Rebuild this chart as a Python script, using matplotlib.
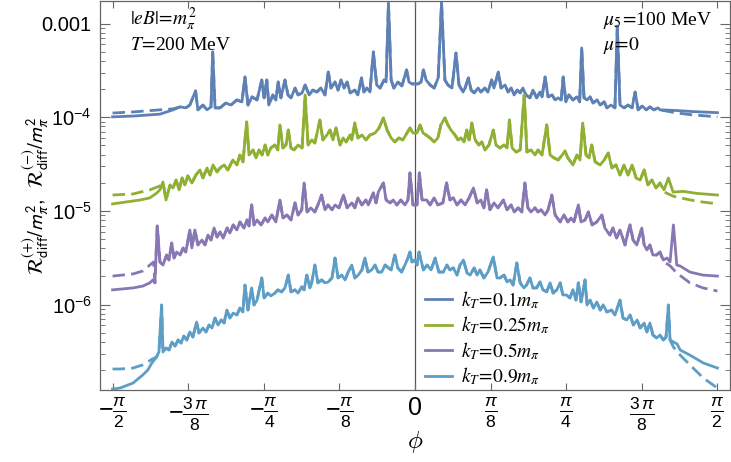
import numpy as np
import matplotlib.pyplot as plt
from matplotlib.ticker import FixedLocator, LogLocator, NullFormatter

plt.rcParams['font.family'] = ['Liberation Sans', 'DejaVu Sans']
plt.rcParams['mathtext.fontset'] = 'custom'
plt.rcParams['mathtext.rm'] = 'Liberation Sans'
plt.rcParams['mathtext.it'] = 'Liberation Sans:italic'
plt.rcParams['mathtext.bf'] = 'Liberation Sans:bold'

# (phi in degrees, value); solid curves
# k_T = 0.1 m_pi, values in units of 1e-4
kt01 = [(-90, 1.01), (-83.9, 1.03), (-75.9, 1.08), (-72.0, 1.20), (-69.9, 1.29), (-68.2, 1.26),
        (-67.0, 1.35), (-65.3, 1.91), (-64.6, 1.20), (-63.1, 1.35), (-61.9, 1.20), (-60.7, 1.29),
        (-60.2, 4.98), (-59.5, 1.26), (-58.0, 1.26), (-56.3, 1.42), (-54.8, 1.35), (-53.0, 1.53),
        (-51.5, 1.46), (-50.6, 2.69), (-49.7, 1.35), (-48.5, 1.65), (-47.0, 1.53), (-45.6, 2.50),
        (-44.9, 1.61), (-44.1, 2.50), (-43.5, 1.35), (-42.3, 1.73), (-41.4, 1.53), (-40.7, 2.38),
        (-39.9, 1.61), (-38.7, 2.50), (-37.8, 1.73), (-36.9, 1.61), (-35.7, 2.05), (-34.8, 1.73),
        (-33.6, 1.82), (-32.7, 2.21), (-31.5, 1.73), (-30.4, 1.95), (-29.2, 1.86), (-28.0, 2.05),
        (-26.8, 1.73), (-25.8, 3.04), (-25.0, 2.05), (-23.8, 2.38), (-22.9, 1.95), (-22.0, 2.50),
        (-21.1, 2.05), (-20.2, 2.38), (-19.3, 1.82), (-17.9, 1.95), (-17.0, 1.73), (-15.9, 2.63),
        (-15.2, 1.86), (-14.3, 2.05), (-13.4, 1.86), (-12.4, 4.98), (-11.4, 2.21), (-10.4, 2.05),
        (-9.2, 2.50), (-8.6, 2.38), (-7.9, 16.6), (-7.1, 2.50), (-6.3, 2.05), (-5.1, 2.38),
        (-3.9, 2.16), (-2.5, 3.20), (-1.8, 2.38), (-0.9, 2.27), (0.9, 2.27), (1.8, 2.38),
        (2.5, 3.20), (3.3, 2.50), (4.5, 2.21), (5.7, 2.05), (6.9, 2.63), (7.9, 16.6),
        (8.9, 2.50), (9.8, 2.21), (11.0, 2.05), (12.2, 4.85), (13.1, 2.21), (14.3, 1.86),
        (14.9, 2.05), (15.9, 2.63), (16.7, 1.95), (17.6, 1.82), (18.8, 2.05), (19.6, 1.86),
        (20.8, 2.05), (21.7, 1.86), (22.8, 2.50), (23.5, 2.05), (24.8, 3.04), (25.6, 2.05),
        (26.8, 2.21), (27.7, 1.86), (28.6, 2.05), (29.5, 1.73), (30.4, 1.95), (31.3, 1.82),
        (32.1, 2.05), (33.0, 1.73), (34.2, 1.61), (35.1, 1.95), (36.2, 1.61), (37.2, 1.86),
        (37.8, 1.65), (38.7, 2.69), (39.6, 1.65), (40.8, 1.73), (41.7, 1.53), (42.6, 1.61),
        (43.5, 1.53), (44.1, 2.69), (44.9, 1.46), (45.8, 1.73), (47.0, 1.53), (48.2, 1.65),
        (49.0, 1.46), (49.6, 5.49), (50.3, 1.61), (51.2, 1.53), (52.1, 1.65), (53.0, 1.42),
        (54.2, 1.53), (55.1, 1.35), (56.3, 1.46), (57.1, 1.26), (58.3, 1.35), (59.5, 1.26),
        (60.2, 9.4), (61.0, 1.35), (62.2, 1.26), (63.4, 1.35), (64.6, 1.26), (65.5, 1.86),
        (66.4, 1.20), (67.6, 1.32), (68.8, 1.20), (69.9, 1.29), (71.1, 1.20), (72.3, 1.26),
        (72.9, 1.20), (77.9, 1.18), (82.7, 1.15), (90, 1.12)]

# k_T = 0.25 m_pi, units of 1e-5
kt025 = [(-90, 1.19), (-81.8, 1.31), (-78.9, 1.38), (-76.8, 1.56), (-75.9, 1.68), (-75.0, 2.04),
         (-74.1, 1.31), (-72.9, 1.90), (-72.0, 1.76), (-71.1, 2.14), (-70.2, 1.68), (-69.3, 2.25),
         (-68.5, 1.90), (-67.6, 2.37), (-66.4, 1.99), (-65.2, 2.42), (-64.0, 2.74), (-63.1, 2.25),
         (-61.9, 2.88), (-61.0, 2.42), (-60.1, 3.10), (-58.9, 2.61), (-58.0, 2.88), (-56.8, 3.10),
         (-55.7, 2.74), (-54.2, 3.50), (-53.0, 3.10), (-52.1, 3.96), (-51.2, 3.34), (-50.1, 8.91),
         (-49.4, 3.96), (-48.2, 4.48), (-47.3, 3.68), (-46.4, 4.48), (-45.5, 3.96), (-44.6, 5.06),
         (-43.8, 3.96), (-42.9, 4.70), (-41.7, 5.06), (-40.8, 4.48), (-40.2, 8.28), (-39.3, 4.70),
         (-38.4, 5.06), (-37.7, 7.31), (-36.9, 4.70), (-36.0, 4.48), (-34.8, 5.06), (-33.6, 4.70),
         (-32.7, 17.3), (-31.8, 5.06), (-30.7, 5.73), (-29.8, 5.31), (-28.3, 9.35), (-27.4, 5.73),
         (-26.2, 6.47), (-25.3, 7.31), (-24.4, 5.73), (-23.5, 7.69), (-22.3, 5.06), (-21.4, 6.01),
         (-20.5, 5.45), (-19.3, 6.47), (-18.8, 5.73), (-17.9, 8.69), (-17.0, 6.01), (-15.8, 6.47),
         (-14.6, 5.73), (-13.4, 6.47), (-11.9, 6.79), (-10.7, 7.69), (-9.4, 9.84), (-8.3, 7.31),
         (-7.1, 6.01), (-6.0, 5.45), (-4.8, 6.01), (-3.6, 5.73), (-2.4, 6.79), (-1.5, 7.69),
         (-0.6, 6.79), (0.6, 6.79), (1.5, 8.28), (2.4, 6.79), (3.3, 6.47), (4.5, 6.01),
         (5.7, 5.45), (6.8, 6.01), (7.7, 8.28), (8.9, 9.84), (9.8, 8.28), (10.7, 7.31),
         (11.9, 6.47), (12.8, 5.73), (13.7, 6.01), (14.6, 5.45), (15.4, 7.31), (16.1, 5.73),
         (16.9, 8.69), (17.9, 5.73), (19.0, 5.06), (19.9, 5.45), (20.8, 4.48), (22.0, 5.06),
         (23.3, 7.31), (24.1, 5.06), (25.3, 4.70), (26.5, 5.06), (27.4, 4.70), (28.1, 9.35),
         (28.9, 4.70), (30.1, 4.26), (31.3, 4.48), (32.5, 17.3), (33.3, 4.26), (34.5, 4.48),
         (35.7, 3.96), (36.6, 4.48), (37.8, 3.96), (39.2, 8.28), (40.2, 3.96), (41.4, 3.68),
         (42.6, 3.50), (43.8, 3.96), (44.6, 4.37), (45.5, 3.68), (47.0, 3.10), (48.2, 3.96),
         (49.1, 3.50), (49.9, 8.69), (50.9, 3.96), (51.8, 3.68), (52.6, 5.06), (53.6, 3.34),
         (55.1, 3.10), (56.3, 3.50), (57.5, 4.16), (58.6, 2.88), (59.8, 3.10), (61.0, 2.42),
         (62.2, 3.10), (63.4, 2.42), (64.6, 3.10), (65.8, 2.25), (67.0, 2.14), (68.2, 2.74),
         (69.3, 1.90), (70.5, 2.14), (71.7, 1.76), (72.9, 1.99), (74.1, 1.68), (75.4, 2.25),
         (76.8, 1.59), (79.8, 1.62), (83.9, 1.54), (90, 1.48)]

# k_T = 0.5 m_pi, units of 1e-6
kt05 = [(-90, 1.44), (-83.9, 1.51), (-81.0, 1.58), (-78.9, 1.71), (-78.0, 1.84), (-77.4, 1.71),
        (-76.7, 6.92), (-75.9, 2.86), (-75.0, 2.65), (-73.9, 3.39), (-73.2, 3.00), (-72.4, 4.55),
        (-71.7, 3.15), (-70.9, 3.65), (-69.9, 3.39), (-69.0, 4.03), (-68.2, 3.65), (-67.0, 6.27),
        (-66.4, 4.03), (-65.5, 6.27), (-64.6, 4.34), (-63.4, 4.90), (-62.5, 4.34), (-61.6, 5.54),
        (-60.7, 4.90), (-59.8, 6.59), (-58.9, 5.27), (-58.0, 5.97), (-57.1, 5.15), (-55.9, 6.59),
        (-55.1, 5.82), (-54.1, 7.10), (-53.0, 6.27), (-52.1, 7.64), (-50.9, 6.59), (-50.0, 8.02),
        (-49.4, 6.92), (-48.6, 11.6), (-47.9, 7.10), (-47.0, 8.02), (-45.8, 7.10), (-44.6, 8.42),
        (-43.8, 7.64), (-42.6, 9.06), (-41.4, 7.64), (-40.2, 13.1), (-39.3, 8.42), (-38.1, 9.06),
        (-36.9, 8.02), (-35.7, 12.2), (-34.8, 9.06), (-33.7, 10.3), (-33.0, 19.9), (-32.1, 9.76),
        (-31.0, 10.8), (-29.8, 9.76), (-28.9, 11.6), (-27.8, 14.8), (-26.8, 10.3), (-25.9, 11.6),
        (-24.7, 10.3), (-23.8, 11.6), (-22.6, 10.8), (-21.3, 14.8), (-20.2, 10.8), (-18.8, 12.2),
        (-17.9, 10.8), (-17.0, 13.8), (-15.8, 11.6), (-14.6, 13.1), (-13.9, 11.6), (-12.4, 15.6),
        (-11.6, 12.2), (-10.9, 16.0), (-9.4, 19.9), (-8.6, 13.1), (-7.4, 12.2), (-6.5, 13.1),
        (-5.4, 11.6), (-4.2, 13.1), (-3.0, 11.6), (-2.1, 13.1), (-1.5, 25.5), (-0.6, 11.6),
        (0.6, 11.6), (1.3, 25.5), (2.1, 13.1), (3.5, 13.1), (4.5, 11.6), (5.7, 13.8),
        (6.8, 11.6), (8.3, 12.2), (9.4, 19.9), (10.4, 13.1), (11.4, 13.8), (12.5, 11.6),
        (13.7, 13.1), (14.9, 11.6), (16.1, 13.8), (17.4, 17.6), (18.5, 12.2), (19.6, 13.1),
        (20.5, 10.8), (21.3, 16.8), (22.3, 10.3), (23.5, 12.2), (24.7, 10.8), (26.3, 13.1),
        (27.4, 10.3), (28.6, 11.6), (29.5, 9.76), (30.7, 10.8), (31.8, 9.76), (32.7, 19.9),
        (33.6, 10.8), (34.5, 9.76), (35.7, 10.8), (36.6, 9.76), (37.5, 10.3), (38.7, 9.06),
        (39.6, 10.3), (40.7, 14.8), (41.7, 9.06), (43.2, 7.64), (44.3, 9.06), (45.5, 7.64),
        (46.4, 8.42), (47.3, 7.64), (48.6, 11.6), (49.4, 7.64), (50.6, 8.02), (51.6, 9.76),
        (52.7, 7.10), (54.1, 7.64), (55.6, 9.06), (56.5, 6.59), (58.0, 5.54), (58.9, 6.59),
        (60.0, 5.15), (61.0, 6.27), (62.5, 4.34), (63.4, 5.97), (64.0, 7.10), (64.9, 4.90),
        (66.0, 4.34), (67.5, 6.59), (68.2, 4.34), (69.0, 3.84), (69.9, 4.34), (70.8, 3.39),
        (71.9, 3.39), (72.9, 3.65), (73.9, 3.00), (75.0, 3.15), (75.9, 2.86), (76.9, 7.10),
        (77.9, 2.65), (78.9, 2.59), (81.8, 2.23), (85.7, 2.07), (90, 2.02)]

# k_T = 0.9 m_pi, units of 1e-7
kt09 = [(-90, 1.26), (-87.8, 1.29), (-83.9, 1.46), (-81.0, 1.78), (-79.5, 2.01), (-78.3, 2.39),
        (-76.9, 2.77), (-76.2, 3.13), (-75.4, 9.93), (-75.0, 3.13), (-74.1, 3.45), (-73.2, 3.29),
        (-72.3, 4.00), (-71.4, 3.62), (-70.5, 4.20), (-69.6, 3.90), (-68.8, 4.63), (-67.9, 4.20),
        (-67.0, 5.12), (-66.1, 4.52), (-65.0, 6.53), (-64.3, 4.99), (-63.1, 5.64), (-62.2, 5.12),
        (-61.3, 6.07), (-60.4, 5.64), (-59.5, 7.21), (-58.6, 6.07), (-57.7, 6.87), (-56.8, 6.38),
        (-56.0, 8.77), (-55.1, 7.21), (-54.1, 8.14), (-53.0, 7.76), (-52.1, 9.22), (-51.2, 8.36),
        (-50.6, 16.2), (-49.7, 8.77), (-48.6, 15.1), (-47.9, 9.93), (-47.0, 11.2), (-45.6, 19.3),
        (-44.9, 11.8), (-43.8, 13.3), (-42.9, 12.4), (-41.7, 13.3), (-40.8, 14.4), (-39.7, 13.7),
        (-38.7, 15.1), (-37.7, 20.7), (-36.9, 13.7), (-35.7, 14.4), (-34.8, 13.3), (-33.7, 15.5),
        (-33.0, 14.4), (-32.2, 20.7), (-31.3, 15.1), (-30.7, 17.5), (-29.8, 26.5), (-28.9, 17.1),
        (-27.8, 18.4), (-26.8, 17.1), (-25.8, 17.5), (-24.7, 19.3), (-23.8, 31.5), (-22.9, 19.3),
        (-21.8, 20.7), (-20.8, 18.4), (-19.9, 22.3), (-18.8, 26.5), (-17.9, 19.3), (-16.9, 20.7),
        (-15.8, 23.5), (-14.9, 31.5), (-14.0, 22.3), (-12.9, 23.5), (-11.9, 26.5), (-11.0, 22.3),
        (-9.9, 22.3), (-8.9, 26.5), (-7.9, 24.7), (-7.1, 23.5), (-6.0, 33.9), (-5.1, 24.7),
        (-4.0, 22.3), (-3.0, 26.5), (-2.1, 31.5), (-1.5, 36.5), (-0.9, 28.6), (0, 30.0),
        (0.6, 26.5), (1.2, 36.5), (2.5, 23.5), (3.6, 26.5), (4.8, 23.5), (6.0, 31.5),
        (7.1, 22.3), (8.4, 22.3), (9.5, 26.5), (10.4, 23.5), (11.4, 24.7), (12.5, 20.7),
        (13.4, 26.5), (14.4, 30.0), (15.5, 21.8), (16.4, 20.7), (17.6, 24.7), (18.5, 20.7),
        (19.3, 23.5), (20.5, 19.3), (21.7, 22.3), (23.3, 32.3), (24.4, 19.3), (25.3, 19.3),
        (26.5, 20.7), (27.4, 17.5), (28.3, 18.4), (29.2, 16.2), (30.3, 27.9), (31.3, 17.1),
        (32.4, 15.1), (33.2, 16.2), (34.2, 19.3), (35.1, 15.1), (36.2, 15.1), (37.2, 17.5),
        (38.1, 14.4), (39.2, 13.7), (40.2, 17.1), (41.1, 13.3), (42.2, 14.4), (43.2, 17.1),
        (44.0, 12.7), (45.1, 12.7), (46.1, 11.8), (47.0, 14.4), (47.9, 11.2), (48.6, 17.1),
        (49.4, 10.7), (50.6, 18.4), (51.2, 9.93), (52.1, 11.2), (53.1, 9.22), (54.1, 10.7),
        (55.1, 8.77), (56.0, 9.93), (57.1, 8.36), (58.5, 8.77), (59.5, 7.76), (61.0, 11.2),
        (61.9, 7.21), (63.0, 6.87), (64.0, 7.76), (65.0, 6.07), (66.1, 6.87), (67.0, 5.64),
        (68.2, 6.38), (69.0, 5.12), (69.9, 6.38), (70.8, 4.75), (71.9, 4.41), (72.9, 4.75),
        (73.9, 4.20), (74.7, 4.52), (75.4, 9.93), (75.9, 4.20), (76.9, 4.00), (78.0, 3.81),
        (78.9, 3.29), (81.8, 2.90), (85.8, 2.39), (90, 2.11)]

# dashed curves: they split off from the solid ones only near phi = +-pi/2
kt01_dash_l = [(-90, 1.11), (-83.9, 1.14), (-75.9, 1.20), (-72.0, 1.23), (-69.9, 1.29)]
kt01_dash_r = [(72.9, 1.20), (77.9, 1.11), (82.7, 1.06), (90, 1.01)]
kt025_dash_l = [(-90, 1.48), (-83.9, 1.52), (-78.9, 1.68), (-75.9, 1.85)]
kt025_dash_r = [(74.1, 1.60), (76.8, 1.44), (79.8, 1.36), (83.9, 1.27), (90, 1.19)]
kt05_dash_l = [(-90, 2.02), (-83.9, 2.13), (-81.0, 2.29), (-78.9, 2.65), (-77.8, 2.86)]
kt05_dash_r = [(73.9, 2.90), (75.9, 2.60), (77.9, 2.18), (81.8, 1.71), (85.7, 1.51), (90, 1.40)]
kt09_dash_l = [(-90, 2.06), (-87.8, 2.06), (-83.9, 2.11), (-81.0, 2.28), (-79.5, 2.45), (-78.3, 2.62)]
kt09_dash_r = [(76.9, 3.53), (78.9, 2.90), (81.8, 2.28), (85.8, 1.65), (90, 1.29)]

labels = [r'$k_T\!=\!0.1m_\pi$', r'$k_T\!=\!0.25m_\pi$', r'$k_T\!=\!0.5m_\pi$', r'$k_T\!=\!0.9m_\pi$']
units = [1e-4, 1e-5, 1e-6, 1e-7]
colors = ['#5E81B5', '#8FB032', '#8778B3', '#5D9EC7']
solid = [kt01, kt025, kt05, kt09]
dash_l = [kt01_dash_l, kt025_dash_l, kt05_dash_l, kt09_dash_l]
dash_r = [kt01_dash_r, kt025_dash_r, kt05_dash_r, kt09_dash_r]

fig = plt.figure(figsize=(7.31, 4.62), dpi=100)
ax = fig.add_axes([100 / 731, 72 / 462, 630 / 731, 389 / 462])

handles = []
for s, dl, dr, u, c, lab in zip(solid, dash_l, dash_r, units, colors, labels):
    p, v = np.array(s).T
    # dashed curve coincides with the solid one between its two end pieces
    mid = (p > dl[-1][0]) & (p < dr[0][0])
    pd = np.concatenate([np.array(dl)[:, 0], p[mid], np.array(dr)[:, 0]])
    vd = np.concatenate([np.array(dl)[:, 1], v[mid], np.array(dr)[:, 1]])
    ax.plot(np.deg2rad(pd), vd * u, color=c, lw=2.0, dashes=(4.5, 2.2))
    h, = ax.plot(np.deg2rad(p), v * u, color=c, lw=2.0)
    handles.append(h)

ax.axvline(0, color='#555555', lw=0.9, zorder=1)

ax.set_yscale('log')
ax.set_xlim(-1.636, 1.636)
ax.set_ylim(1.23e-7, 1.74e-3)

xt = np.arange(-4, 5) * np.pi / 8
xl = [r'$-\frac{\pi}{2}$', r'$-\frac{3\,\pi}{8}$', r'$-\frac{\pi}{4}$', r'$-\frac{\pi}{8}$', '0',
      r'$\frac{\pi}{8}$', r'$\frac{\pi}{4}$', r'$\frac{3\,\pi}{8}$', r'$\frac{\pi}{2}$']
ax.xaxis.set_major_locator(FixedLocator(xt))
ax.set_xticklabels(xl, fontsize=18)
ax.yaxis.set_major_locator(FixedLocator([1e-6, 1e-5, 1e-4, 1e-3]))
ax.set_yticklabels([r'$10^{-6}$', r'$10^{-5}$', r'$10^{-4}$', '0.001'], fontsize=14.5)
ax.yaxis.set_minor_locator(LogLocator(base=10, subs=np.arange(2, 10)))
ax.yaxis.set_minor_formatter(NullFormatter())

ax.tick_params(which='both', direction='in', top=True, right=True, color='#666666')
ax.tick_params(axis='x', length=5, pad=4)
ax.tick_params(axis='y', which='major', length=7, pad=6)
ax.tick_params(axis='y', which='minor', length=3.5)
for sp in ax.spines.values():
    sp.set_color('#666666')
    sp.set_linewidth(0.9)

ax.set_xlabel(r'$\phi$', fontsize=18, math_fontfamily='cm')
ax.xaxis.set_label_coords(0.5, -0.1)
ax.set_ylabel(r'$\mathcal{R}^{(+)}_{\rm diff}/m_\pi^2$,  $\mathcal{R}^{(-)}_{\rm diff}/m_\pi^2$',
              fontsize=15, math_fontfamily='stixsans')
ax.yaxis.set_label_coords(-0.08, 0.5)

tkw = dict(transform=ax.transAxes, fontsize=14, family='Liberation Serif',
           math_fontfamily='stix', va='baseline', ha='left')
ax.text(0.048, 0.938, r'$|eB|\!=\!m_\pi^2$', **tkw)
ax.text(0.048, 0.874, r'$T\!=\!$200 MeV', **tkw)
ax.text(0.798, 0.938, r'$\mu_5\!=\!$100 MeV', **tkw)
ax.text(0.798, 0.874, r'$\mu\!=\!0$', **tkw)

leg = ax.legend(handles, labels, loc='upper left', bbox_to_anchor=(0.516, 0.26),
                frameon=False, borderpad=0, borderaxespad=0, handlelength=1.4,
                handletextpad=0.45, labelspacing=0.2,
                prop={'family': 'Liberation Serif', 'size': 14, 'math_fontfamily': 'stix'})

fig.savefig('out.png', dpi=100)
